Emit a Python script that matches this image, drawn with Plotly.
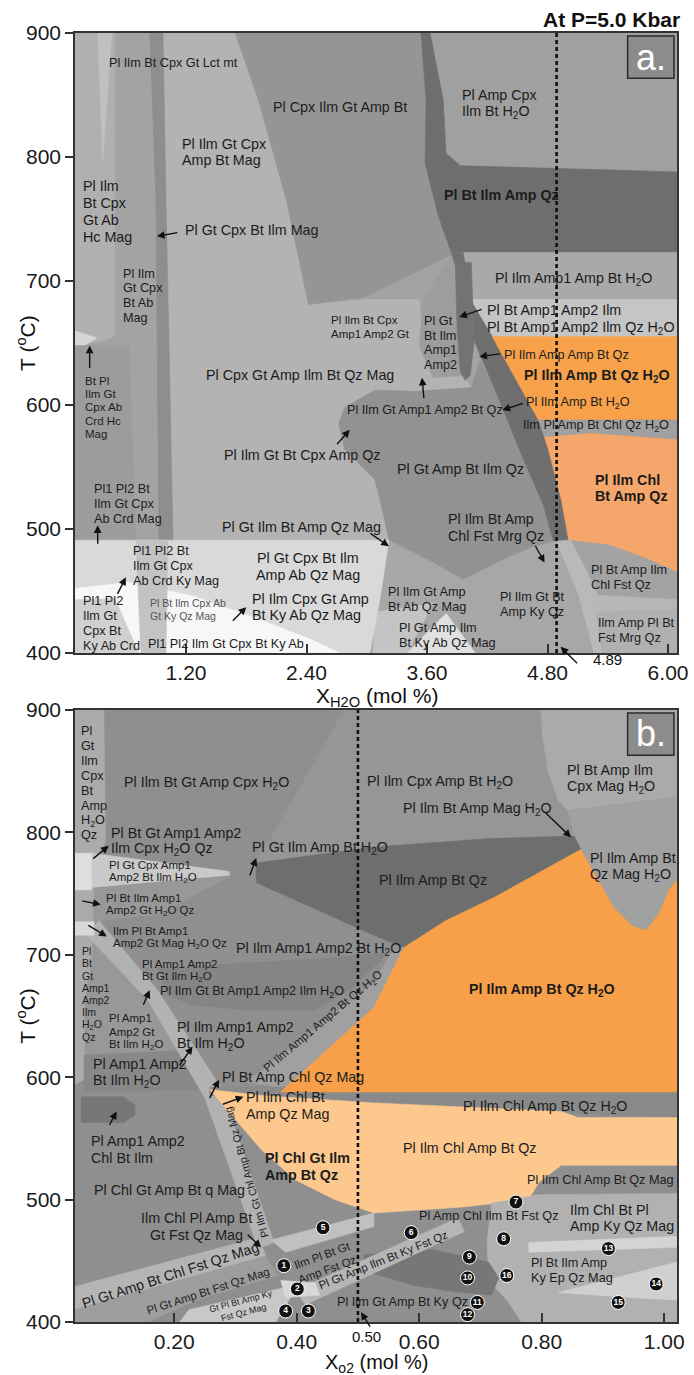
import plotly.graph_objects as go

FONT = "Liberation Sans, Arial, Helvetica, sans-serif"
INK = "#1c1c1c"

# ---------------- axes ----------------
XA_RANGE = [0.094, 6.089]
XA_TICKS = [1.2, 2.4, 3.6, 4.8, 6.0]
XA_TICKTEXT = ["1.20", "2.40", "3.60", "4.80", "6.00"]
XB_RANGE = [0.038, 1.021]
XB_TICKS = [0.2, 0.4, 0.6, 0.8, 1.0]
XB_TICKTEXT = ["0.20", "0.40", "0.60", "0.80", "1.00"]
T_RANGE = [400, 900]
T_TICKS = [400, 500, 600, 700, 800, 900]

XA_SAMPLE = 4.89   # X(H2O) of the modelled bulk composition
XB_SAMPLE = 0.50   # X(O2) of the modelled bulk composition

# ---------------- panel a: phase fields, (X_H2O, T degC) ----------------
A_FRAME = [(0.09, 900), (6.09, 900), (6.09, 400), (0.09, 400)]
A_GT_CPX_MAG = [(0.97, 900), (1.69, 900), (1.92, 846), (2.20, 765), (2.42, 681), (2.98, 685),
                (3.52, 685), (3.55, 652), (3.66, 627), (3.96, 624), (4.04, 614), (3.47, 611),
                (3.08, 612), (2.78, 598), (2.72, 585), (2.78, 564), (3.08, 540), (3.18, 507),
                (3.22, 491), (1.07, 491), (1.00, 765)]
A_HC_MAG = [(0.09, 900), (0.49, 900), (0.49, 656), (0.39, 652), (0.09, 648)]
A_HC_CRD_SPOT = [(0.09, 660), (0.31, 654), (0.09, 643)]
A_CRD_HC = [(0.09, 648), (0.63, 648), (0.70, 491), (0.09, 491)]
A_LCT_STREAK = [(0.32, 900), (0.46, 900), (0.37, 796)]
A_MAG_STRIPE = [(0.84, 900), (0.97, 900), (1.00, 765), (1.07, 491), (0.93, 491), (0.90, 765)]
A_CPX_GT_AMP = [(1.69, 900), (3.54, 900), (3.59, 846), (3.58, 795), (3.71, 753), (3.84, 721),
                (2.98, 687), (2.42, 681), (2.20, 765), (1.92, 846)]
A_GT_AMP12 = [(3.84, 721), (3.91, 685), (3.98, 624), (3.66, 622), (3.52, 648), (3.57, 685)]
A_AMP_CPX_H2O = [(3.63, 900), (6.09, 900), (6.09, 788), (3.93, 793), (3.79, 803), (3.76, 846)]
A_BT_ILM_AMP_QZ = [(3.54, 900), (3.63, 900), (3.76, 846), (3.79, 803), (3.93, 793), (6.09, 788),
                   (6.09, 723), (3.84, 723), (3.71, 753), (3.58, 795), (3.59, 846)]
A_AMP1_H2O = [(3.84, 723), (6.09, 723), (6.09, 685), (4.03, 685), (3.91, 705)]
A_AMP12_ILM = [(4.03, 685), (6.09, 685), (6.09, 655), (4.25, 655)]
A_GT_AMP_ILM_QZ = [(2.78, 598), (3.08, 612), (3.47, 611), (4.04, 614), (4.13, 636), (4.30, 608),
                   (4.54, 560), (4.76, 519), (4.86, 490), (4.64, 485), (4.30, 473), (3.96, 459),
                   (3.61, 475), (3.22, 491), (3.18, 507), (3.08, 540), (2.78, 564), (2.72, 585)]
A_AMP_QZ_BELT = [(3.84, 723), (3.96, 723), (4.03, 685), (4.25, 655), (4.71, 588), (4.81, 564),
                 (4.94, 523), (5.01, 491), (4.86, 490), (4.76, 519), (4.54, 560), (4.30, 608),
                 (4.13, 640), (4.07, 652), (4.01, 685), (3.91, 705)]
A_AMP12_STRIPE = [(3.88, 715), (4.04, 715), (4.07, 652), (4.03, 624), (3.98, 620), (3.93, 627),
                  (3.90, 661)]
A_QZ_H2O = [(4.25, 655), (6.09, 655), (6.09, 588), (4.71, 588)]
A_CHL_H2O = [(4.71, 588), (6.09, 588), (6.09, 572), (5.23, 577), (4.77, 574)]
A_CHL_QZ = [(4.77, 574), (5.23, 577), (6.09, 572), (6.09, 465), (5.82, 475), (5.42, 487),
            (5.01, 491), (4.94, 523), (4.81, 564)]
A_AB_QZ_MAG = [(3.22, 491), (3.61, 475), (3.96, 459), (4.30, 473), (4.64, 485), (4.86, 490),
               (5.01, 491), (5.23, 459), (5.23, 400), (3.03, 400), (3.13, 443)]
A_KY_AB_GREY = [(3.08, 433), (3.66, 440), (3.40, 400), (3.06, 400)]
A_KY_AB = [(3.40, 400), (3.79, 432), (4.08, 400)]
A_CHL_FST = [(5.01, 491), (5.42, 487), (5.82, 475), (6.09, 465), (6.09, 443), (5.62, 440),
             (5.26, 437), (5.13, 463)]
A_FST_DIAG = [(4.89, 490), (5.03, 491), (5.28, 451), (5.42, 400), (5.26, 400), (5.11, 447)]
A_FST_BAND = [(5.23, 447), (6.09, 443), (6.09, 435), (5.28, 433)]
A_FST_MRG = [(5.28, 433), (6.09, 435), (6.09, 400), (5.35, 400)]
A_AB_CRD_KY = [(0.09, 491), (3.22, 491), (3.13, 443), (3.03, 400), (0.09, 400)]
A_KY_CPX = [(0.09, 452), (0.63, 457), (1.27, 446), (1.90, 428), (2.44, 411), (2.73, 400), (0.09, 400)]
A_KY_CRD = [(0.09, 443), (0.49, 444), (0.73, 400), (0.09, 400)]
A_KY_STRIPE = [(0.70, 491), (1.02, 491), (1.00, 400), (0.75, 400)]

# ---------------- panel b: phase fields, (X_O2, T degC) ----------------
B_FRAME = [(0.038, 900), (1.021, 900), (1.021, 400), (0.038, 400)]
B_AMP12_GT_LEFT = [(0.038, 753), (0.290, 764), (0.173, 733), (0.077, 728), (0.057, 716),
                   (0.157, 663), (0.205, 622), (0.053, 618), (0.038, 618)]
B_CPX_QZ_STRIP = [(0.038, 900), (0.085, 900), (0.088, 794), (0.069, 761), (0.065, 696),
                  (0.053, 663), (0.053, 598), (0.038, 594)]
B_CPX_AMP_H2O = [(0.478, 900), (0.799, 900), (0.801, 880), (0.810, 851), (0.827, 826), (0.843, 818),
                 (0.853, 797), (0.718, 795), (0.526, 788), (0.334, 775)]
B_CPX_MAG_H2O = [(0.799, 900), (1.021, 900), (1.021, 829), (0.912, 822), (0.843, 818), (0.827, 826),
                 (0.810, 851), (0.801, 880)]
B_QZ_MAG_H2O = [(0.843, 818), (0.912, 822), (1.021, 829), (1.021, 761), (1.008, 753), (0.992, 734),
                (0.971, 720), (0.949, 723), (0.917, 739), (0.885, 767), (0.864, 786), (0.853, 797)]
B_AMP_BT_QZ = [(0.334, 775), (0.526, 788), (0.718, 795), (0.853, 797), (0.864, 786), (0.816, 773),
               (0.723, 747), (0.644, 728), (0.575, 706), (0.526, 716), (0.334, 759)]
B_CPX_WEDGE = [(0.065, 783), (0.290, 768), (0.290, 765), (0.065, 755)]
B_CPX_WEDGE_EDGE = [(0.038, 783), (0.065, 783), (0.065, 753), (0.038, 753)]
B_GT_AMP12_H2O = [(0.173, 689), (0.446, 697), (0.550, 702), (0.487, 671), (0.430, 655),
                  (0.318, 655), (0.230, 659), (0.189, 667)]
B_AMP12_ILM_H2O = [(0.053, 618), (0.230, 622), (0.258, 590), (0.053, 588)]
B_GT_CHL_BAND = [(0.077, 728), (0.173, 671), (0.277, 591), (0.363, 465), (0.337, 460),
                 (0.250, 583), (0.157, 663), (0.057, 716)]
B_MAG_EDGE = [(0.038, 727), (0.069, 727), (0.069, 716), (0.038, 716)]
B_CHL_BLOB = [(0.048, 584), (0.117, 584), (0.136, 577), (0.136, 569), (0.117, 563), (0.048, 563)]
B_AMP12_QZ_BAND = [(0.318, 596), (0.526, 677), (0.555, 702), (0.575, 706), (0.526, 657), (0.382, 591)]
B_CHL_H2O_BAND = [(0.258, 592), (1.021, 591), (1.021, 567), (0.258, 585)]
B_QZ_H2O = [(0.575, 706), (0.644, 728), (0.723, 747), (0.816, 773), (0.864, 786), (0.885, 767),
            (0.917, 739), (0.949, 723), (0.971, 720), (0.992, 734), (1.008, 753), (1.021, 761),
            (1.021, 588), (0.374, 588), (0.526, 657)]
B_CHL_QZ = [(0.258, 590), (0.342, 585), (0.526, 579), (0.832, 572), (0.859, 567), (1.021, 567),
            (1.021, 528), (0.832, 528), (0.795, 514), (0.779, 500), (0.671, 494), (0.526, 489),
            (0.462, 500), (0.398, 516), (0.342, 541), (0.301, 565)]
B_KY_QZ_MAG = [(0.718, 497), (0.795, 504), (1.021, 505), (1.021, 400), (0.767, 400), (0.743, 418),
               (0.713, 434), (0.711, 467), (0.716, 487)]
B_KY_STREAK = [(0.779, 465), (1.021, 470), (1.021, 461), (0.779, 457)]
B_KY_STREAK_LOW = [(0.827, 424), (1.021, 449), (1.021, 418), (0.944, 420)]
B_FST_DARK = [(0.510, 455), (0.623, 459), (0.713, 449), (0.730, 436), (0.718, 422), (0.655, 425),
              (0.591, 430), (0.510, 442)]
B_KY_FST_BAND = [(0.398, 426), (0.663, 485), (0.674, 474), (0.414, 414)]
B_FST_BAND5 = [(0.358, 467), (0.526, 489), (0.526, 478), (0.382, 457)]
B_CHL_FST_BAND = [(0.038, 429), (0.337, 469), (0.350, 454), (0.038, 410)]
B_FST_LOW = [(0.038, 410), (0.350, 454), (0.369, 438), (0.237, 418), (0.157, 400), (0.038, 400)]
B_KY_FST_LOW = [(0.209, 400), (0.224, 410), (0.379, 428), (0.390, 420), (0.366, 400)]
B_SPOT2 = [(0.374, 434), (0.430, 432), (0.438, 422), (0.382, 420)]

# small-field numbers in panel b
B_FIELD_IDS = ["1", "2", "3", "4", "5", "6", "7", "8", "9", "10", "11", "12", "13", "14", "15", "16"]
B_FIELD_X = [0.379, 0.401, 0.419, 0.382, 0.443, 0.587, 0.758, 0.738, 0.682, 0.679, 0.695, 0.679,
             0.909, 0.987, 0.925, 0.743]
B_FIELD_T = [446, 427, 409, 409, 477, 473, 498, 468, 453, 436, 416, 406, 460, 431, 416, 438]

# ---------------- field labels: (x, T, text, size key, anchor) ----------------
A_LABELS = [
    (1.07, 876, "Pl Ilm Bt Cpx Gt Lct mt", "s", "c"),
    (2.73, 840, "Pl Cpx Ilm Gt Amp Bt", "n", "c"),
    (3.93, 843, "Pl Amp Cpx<br>Ilm Bt H<sub>2</sub>O", "n", "l"),
    (1.14, 804, "Pl Ilm Gt Cpx<br>Amp Bt Mag", "n", "l"),
    (4.34, 769, "<b>Pl Bt Ilm Amp Qz</b>", "n", "c"),
    (0.15, 756, "Pl Ilm<br>Bt Cpx<br>Gt Ab<br>Hc Mag", "n", "l"),
    (1.17, 741, "Pl Gt Cpx Bt Ilm Mag", "n", "l"),
    (0.55, 688, "Pl Ilm<br>Gt Cpx<br>Bt Ab<br>Mag", "s", "l"),
    (5.06, 702, "Pl Ilm Amp1 Amp Bt H<sub>2</sub>O", "n", "c"),
    (4.18, 677, "Pl Bt Amp1 Amp2 Ilm", "n", "l"),
    (4.18, 662, "Pl Bt Amp1 Amp2 Ilm Qz H<sub>2</sub>O", "n", "l"),
    (2.62, 663, "Pl Ilm Bt Cpx<br>Amp1 Amp2 Gt", "xs", "l"),
    (3.55, 650, "Pl Gt<br>Bt Ilm<br>Amp1<br>Amp2", "s", "l"),
    (4.35, 640, "Pl Ilm Amp Amp Bt Qz", "s", "l"),
    (5.29, 623, "<b>Pl Ilm Amp Bt Qz H<sub>2</sub>O</b>", "n", "c"),
    (4.57, 602, "Pl Ilm Amp Bt H<sub>2</sub>O", "s", "l"),
    (5.28, 583, "Ilm Pl Amp Bt Chl Qz H<sub>2</sub>O", "s", "c"),
    (5.25, 533, "<b>Pl Ilm Chl</b><br><b>Bt Amp Qz</b>", "n", "l"),
    (5.21, 461, "Pl Bt Amp Ilm<br>Chl Fst Qz", "s", "l"),
    (5.28, 418, "Ilm Amp Pl Bt<br>Fst Mrg Qz", "s", "l"),
    (3.93, 548, "Pl Gt Amp Bt Ilm Qz", "n", "c"),
    (3.79, 501, "Pl Ilm Bt Amp<br>Chl Fst Mrg Qz", "n", "l"),
    (3.19, 443, "Pl Ilm Gt Amp<br>Bt Ab Qz Mag", "s", "l"),
    (4.31, 439, "Pl Ilm Gt Bt<br>Amp Ky Qz", "s", "l"),
    (3.30, 414, "Pl Gt Amp Ilm<br>Bt Ky Ab Qz Mag", "s", "l"),
    (2.78, 596, "Pl Ilm Gt Amp1 Amp2 Bt Qz", "s", "l"),
    (1.38, 624, "Pl Cpx Gt Amp Ilm Bt Qz Mag", "n", "l"),
    (1.56, 560, "Pl Ilm Gt Bt Cpx Amp Qz", "n", "l"),
    (0.17, 598, "Bt Pl<br>Ilm Gt<br>Cpx Ab<br>Crd Hc<br>Mag", "xs", "l"),
    (0.26, 520, "Pl1 Pl2 Bt<br>Ilm Gt Cpx<br>Ab Crd Mag", "s", "l"),
    (1.54, 502, "Pl Gt Ilm Bt Amp Qz Mag", "n", "l"),
    (0.65, 470, "Pl1 Pl2 Bt<br>Ilm Gt Cpx<br>Ab Crd Ky Mag", "s", "l"),
    (2.41, 470, "Pl Gt Cpx Bt Ilm<br>Amp Ab Qz Mag", "n", "c"),
    (0.15, 424, "Pl1 Pl2<br>Ilm Gt<br>Cpx Bt<br>Ky Ab Crd", "s", "l"),
    (1.84, 437, "Pl Ilm Cpx Gt Amp<br>Bt Ky Ab Qz Mag", "n", "l"),
    (0.80, 407, "Pl1 Pl2 Ilm Gt Cpx Bt Ky Ab", "s", "l"),
]
A_FAINT_LABELS = [
    (0.82, 435, "Pl Bt Ilm Cpx Ab<br>Gt Ky Qz Mag"),
]
# pointers: (tip x, tip T, tail dx px, tail dy px)
A_POINTERS = [
    (0.91, 736, 22, -4), (3.92, 671, 24, -8), (4.12, 639, 22, -3), (4.35, 596, 22, -7),
    (3.55, 622, 2, 22), (2.83, 580, -14, 16), (0.24, 648, 0, 24), (0.32, 503, 0, 20),
    (3.22, 486, -20, -14), (0.60, 461, -9, 18), (1.80, 437, -15, 15), (4.77, 473, -10, -18),
    (4.93, 405, 18, 18),
]

B_LABELS = [
    (0.044, 840, "Pl<br>Gt<br>Ilm<br>Cpx<br>Bt<br>Amp<br>H<sub>2</sub>O<br>Qz", "s", "l"),
    (0.114, 840, "Pl Ilm Bt Gt Amp Cpx H<sub>2</sub>O", "n", "l"),
    (0.634, 841, "Pl Ilm Cpx Amp Bt H<sub>2</sub>O", "n", "c"),
    (0.838, 844, "Pl Bt Amp Ilm<br>Cpx Mag H<sub>2</sub>O", "n", "l"),
    (0.570, 819, "Pl Ilm Bt Amp Mag H<sub>2</sub>O", "n", "l"),
    (0.093, 793, "Pl Bt Gt Amp1 Amp2<br>Ilm Cpx H<sub>2</sub>O Qz", "n", "l"),
    (0.323, 787, "Pl Gt Ilm Amp Bt H<sub>2</sub>O", "n", "l"),
    (0.091, 768, "Pl Gt Cpx Amp1<br>Amp2 Bt Ilm H<sub>2</sub>O", "xs", "l"),
    (0.623, 761, "Pl Ilm Amp Bt Qz", "n", "c"),
    (0.875, 772, "Pl Ilm Amp Bt<br>Qz Mag H<sub>2</sub>O", "n", "l"),
    (0.086, 741, "Pl Bt Ilm Amp1<br>Amp2 Gt H<sub>2</sub>O Qz", "xs", "l"),
    (0.096, 714, "Ilm Pl Bt Amp1<br>Amp2 Gt Mag H<sub>2</sub>O Qz", "xs", "l"),
    (0.297, 705, "Pl Ilm Amp1 Amp2 Bt H<sub>2</sub>O", "n", "l"),
    (0.046, 668, "Pl<br>Bt<br>Gt<br>Amp1<br>Amp2<br>Ilm<br>H<sub>2</sub>O<br>Qz", "xxs", "l"),
    (0.144, 687, "Pl Amp1 Amp2<br>Bt Gt Ilm H<sub>2</sub>O", "xs", "l"),
    (0.173, 670, "Pl Ilm Gt Bt Amp1 Amp2 Ilm H<sub>2</sub>O", "s", "l"),
    (0.090, 637, "Pl Amp1<br>Amp2 Gt<br>Bt Ilm H<sub>2</sub>O", "xs", "l"),
    (0.202, 634, "Pl Ilm Amp1 Amp2<br>Bt Ilm H<sub>2</sub>O", "n", "l"),
    (0.064, 604, "Pl Amp1 Amp2<br>Bt Ilm H<sub>2</sub>O", "n", "l"),
    (0.274, 600, "Pl Bt Amp Chl Qz Mag", "n", "l"),
    (0.314, 577, "Pl Ilm Chl Bt<br>Amp Qz Mag", "n", "l"),
    (0.061, 541, "Pl Amp1 Amp2<br>Chl Bt Ilm", "n", "l"),
    (0.345, 527, "<b>Pl Chl Gt Ilm</b><br><b>Amp Bt Qz</b>", "n", "l"),
    (0.065, 508, "Pl Chl Gt Amp Bt q Mag", "n", "l"),
    (0.237, 478, "Ilm Chl Pl Amp Bt<br>Gt Fst Qz Mag", "n", "c"),
    (0.462, 416, "Pl Ilm Gt Amp Bt Ky Qz", "s", "l"),
    (0.596, 487, "Pl Amp Chl Ilm Bt Fst Qz", "s", "l"),
    (0.668, 576, "Pl Ilm Chl Amp Bt Qz H<sub>2</sub>O", "n", "l"),
    (0.570, 542, "Pl Ilm Chl Amp Bt Qz", "n", "l"),
    (0.772, 516, "Pl Ilm Chl Amp Bt Qz Mag", "s", "l"),
    (0.843, 485, "Ilm Chl Bt Pl<br>Amp Ky Qz Mag", "n", "l"),
    (0.779, 442, "Pl Bt Ilm Amp<br>Ky Ep Qz Mag", "s", "l"),
    (0.801, 671, "<b>Pl Ilm Amp Bt Qz H<sub>2</sub>O</b>", "n", "c"),
]
# labels written along narrow fields: (x, T, text, size key, angle)
B_TILTED = [
    (0.318, 523, "Pl Ilm Gt Chl Amp Bt Qz Mag", "xxs", -106),
    (0.194, 438, "Pl Gt Amp Bt Chl Fst Qz Mag", "n", -18),
    (0.255, 425, "Pl Gt Amp Bt Fst Qz Mag", "xs", -18),
    (0.311, 412, "Gt Pl Bt Amp Ky<br>Fst Qz Mag", "xxxs", -15),
    (0.446, 449, "Ilm Pl Bt Gt<br>Amp Fst Qz", "xs", -20),
    (0.541, 451, "Pl Gt Amp Ilm Bt Ky Fst Qz", "xs", -22),
    (0.443, 645, "Pl Ilm Amp1 Amp2 Bt Qz H<sub>2</sub>O", "xs", -40),
]
B_POINTERS = [
    (0.848, 796, -27, -26), (0.093, 789, -17, 14), (0.334, 779, -7, 19), (0.080, 741, -20, -4),
    (0.090, 715, -20, -12), (0.160, 671, -7, 16), (0.230, 625, -14, 20), (0.273, 598, -10, 20),
    (0.313, 584, -22, 8), (0.106, 572, -8, 15), (0.342, 461, -15, -14), (0.505, 408, 10, 16),
]

# ---------------- drawing order and fills ----------------
A_FIELDS = [
    (A_FRAME, "#a3a3a3"), (A_GT_CPX_MAG, "#b3b3b3"), (A_HC_MAG, "#b0b0b0"),
    (A_HC_CRD_SPOT, "#d6d6d6"), (A_CRD_HC, "#9c9c9c"), (A_LCT_STREAK, "#c0c0c0"),
    (A_MAG_STRIPE, "#8e8e8e"), (A_CPX_GT_AMP, "#959595"), (A_GT_AMP12, "#9d9d9d"),
    (A_AMP_CPX_H2O, "#a0a0a0"), (A_BT_ILM_AMP_QZ, "#6e6e6e"), (A_AMP1_H2O, "#a9a9a9"),
    (A_AMP12_ILM, "#c5c5c5"), (A_GT_AMP_ILM_QZ, "#929292"), (A_AMP_QZ_BELT, "#6f6f6f"),
    (A_AMP12_STRIPE, "#737373"), (A_QZ_H2O, "#f7a24a"), (A_CHL_H2O, "#a0a0a0"),
    (A_CHL_QZ, "#f5a66b"), (A_AB_QZ_MAG, "#a7a7a7"), (A_KY_AB_GREY, "#c4c4c4"),
    (A_KY_AB, "#e0e0e0"), (A_CHL_FST, "#a3a3a3"), (A_FST_DIAG, "#b9b9b9"),
    (A_FST_BAND, "#b7b7b7"), (A_FST_MRG, "#b0b0b0"), (A_AB_CRD_KY, "#d9d9d9"),
    (A_KY_CPX, "#f7f7f7"), (A_KY_CRD, "#d0d0d0"), (A_KY_STRIPE, "#c3c3c3"),
]
B_FIELDS = [
    (B_FRAME, "#8f8f8f"), (B_AMP12_GT_LEFT, "#989898"), (B_CPX_QZ_STRIP, "#ababab"),
    (B_CPX_AMP_H2O, "#969696"), (B_CPX_MAG_H2O, "#aaaaaa"), (B_QZ_MAG_H2O, "#a1a1a1"),
    (B_AMP_BT_QZ, "#6e6e6e"), (B_CPX_WEDGE, "#c9c9c9"), (B_CPX_WEDGE_EDGE, "#dedede"),
    (B_GT_AMP12_H2O, "#858585"), (B_AMP12_ILM_H2O, "#888888"), (B_GT_CHL_BAND, "#b2b2b2"),
    (B_MAG_EDGE, "#d8d8d8"), (B_CHL_BLOB, "#777777"), (B_AMP12_QZ_BAND, "#a0a0a0"),
    (B_CHL_H2O_BAND, "#8a8a8a"), (B_QZ_H2O, "#f7a049"), (B_CHL_QZ, "#fdc88e"),
    (B_KY_QZ_MAG, "#b1b1b1"), (B_KY_STREAK, "#d4d4d4"), (B_KY_STREAK_LOW, "#d0d0d0"),
    (B_FST_DARK, "#777777"), (B_KY_FST_BAND, "#b6b6b6"), (B_FST_BAND5, "#c0c0c0"),
    (B_CHL_FST_BAND, "#b4b4b4"), (B_FST_LOW, "#9d9d9d"), (B_KY_FST_LOW, "#c8c8c8"),
    (B_SPOT2, "#d8d8d8"),
]

SIZES = {"n": 14.3, "s": 12.7, "xs": 11.5, "xxs": 10.5, "xxxs": 9}
ANCHOR = {"l": "left", "c": "center"}
LEAD = 1.17   # line pitch of stacked labels, in font sizes

fig = go.Figure()


def add_field(pts, color, xa, ya):
    xs = [p[0] for p in pts] + [pts[0][0]]
    ys = [p[1] for p in pts] + [pts[0][1]]
    fig.add_trace(go.Scatter(
        x=xs, y=ys, xaxis=xa, yaxis=ya, mode="lines", fill="toself",
        fillcolor=color, line=dict(width=0.6, color=color),
        hoverinfo="skip", showlegend=False))


for pts, col in A_FIELDS:
    add_field(pts, col, "x", "y")
for pts, col in B_FIELDS:
    add_field(pts, col, "x2", "y2")

# sample composition lines
fig.add_trace(go.Scatter(x=[XA_SAMPLE, XA_SAMPLE], y=T_RANGE, xaxis="x", yaxis="y", mode="lines",
                         line=dict(color="#111111", width=2.6, dash="4px,3px"),
                         hoverinfo="skip", showlegend=False))
fig.add_trace(go.Scatter(x=[XB_SAMPLE, XB_SAMPLE], y=T_RANGE, xaxis="x2", yaxis="y2", mode="lines",
                         line=dict(color="#111111", width=2.6, dash="4px,3px"),
                         hoverinfo="skip", showlegend=False))

# numbered small fields
fig.add_trace(go.Scatter(
    x=B_FIELD_X, y=B_FIELD_T, xaxis="x2", yaxis="y2", mode="markers+text",
    text=["<b>%s</b>" % s for s in B_FIELD_IDS], textposition="middle center",
    textfont=dict(family=FONT, size=8.5, color="white"),
    marker=dict(size=14, color="#111111", line=dict(color="white", width=1)),
    hoverinfo="skip", showlegend=False))

ann = []


def label(x, y, text, size, anchor, xref, yref, color=INK):
    """Stacked field label; each line is its own annotation for a tight line pitch."""
    lines = text.split("<br>")
    n = len(lines)
    for i, ln in enumerate(lines):
        ann.append(dict(x=x, y=y, xref=xref, yref=yref, text=ln, showarrow=False,
                        xanchor=ANCHOR[anchor], yanchor="middle", align=ANCHOR[anchor],
                        yshift=((n - 1) / 2 - i) * LEAD * size,
                        font=dict(family=FONT, size=size, color=color)))


def tilted(x, y, text, size, angle, xref, yref):
    ann.append(dict(x=x, y=y, xref=xref, yref=yref, text=text, showarrow=False,
                    xanchor="center", yanchor="middle", align="center", textangle=angle,
                    font=dict(family=FONT, size=size, color=INK)))


def pointer(x, y, dx, dy, xref, yref):
    ann.append(dict(x=x, y=y, xref=xref, yref=yref, ax=dx, ay=dy, text="", showarrow=True,
                    arrowhead=2, arrowsize=1.1, arrowwidth=1.4, arrowcolor="#111111", standoff=0))


for x, y, t, s, a in A_LABELS:
    label(x, y, t, SIZES[s], a, "x", "y")
for x, y, t in A_FAINT_LABELS:
    label(x, y, t, 10.5, "l", "x", "y", color="#555555")
for x, y, dx, dy in A_POINTERS:
    pointer(x, y, dx, dy, "x", "y")
for x, y, t, s, a in B_LABELS:
    label(x, y, t, SIZES[s], a, "x2", "y2")
for x, y, t, s, ang in B_TILTED:
    tilted(x, y, t, SIZES[s], ang, "x2", "y2")
for x, y, dx, dy in B_POINTERS:
    pointer(x, y, dx, dy, "x2", "y2")

# sample composition values written under the axes
ann.append(dict(x=5.40, y=0.5136, xref="x", yref="paper", text="4.89", showarrow=False,
                xanchor="center", yanchor="middle", font=dict(family=FONT, size=15, color="#111111")))
ann.append(dict(x=0.514, y=-0.0116, xref="x2", yref="paper", text="0.50", showarrow=False,
                xanchor="center", yanchor="middle", font=dict(family=FONT, size=15, color="#111111")))

# panel letters
for xd, yd, letter in (("x domain", "y domain", "a."), ("x2 domain", "y2 domain", "b.")):
    ann.append(dict(x=0.9565, y=0.961, xref=xd, yref=yd, text=letter, showarrow=False,
                    xanchor="center", yanchor="middle",
                    font=dict(family=FONT, size=36, color="white")))

# titles
ann.append(dict(x=1.009, y=1.0101, xref="paper", yref="paper", text="<b>At P=5.0 Kbar</b>",
                showarrow=False, xanchor="right", yanchor="middle",
                font=dict(family=FONT, size=21, color="#111111")))
ann.append(dict(x=0.501, y=0.4849, xref="paper", yref="paper",
                text="X<sub>H2O</sub> (mol %)", showarrow=False, xanchor="center",
                yanchor="middle", font=dict(family=FONT, size=21, color="#111111")))
ann.append(dict(x=0.501, y=-0.0322, xref="paper", yref="paper",
                text="X<sub>o2</sub> (mol %)", showarrow=False, xanchor="center",
                yanchor="middle", font=dict(family=FONT, size=20, color="#111111")))
for yc in (0.7595, 0.2374):
    ann.append(dict(x=-0.0816, y=yc, xref="paper", yref="paper", text="T (<sup>o</sup>C)",
                    showarrow=False, xanchor="center", yanchor="middle", textangle=-90,
                    font=dict(family=FONT, size=21, color="#111111")))

shapes = [
    dict(type="rect", xref="x domain", yref="y domain", x0=0.918, x1=0.995, y0=0.927, y1=0.995,
         fillcolor="#8c8c8c", line=dict(color="#2a2a2a", width=1.5)),
    dict(type="rect", xref="x2 domain", yref="y2 domain", x0=0.918, x1=0.995, y0=0.926, y1=0.995,
         fillcolor="#8c8c8c", line=dict(color="#2a2a2a", width=1.5)),
]

axis_common = dict(showline=True, linecolor="#333333", linewidth=1.5, mirror=True,
                   showgrid=False, zeroline=False, tickwidth=1.5, tickcolor="#333333",
                   tickfont=dict(family=FONT, size=21, color="#1a1a1a"))

fig.update_layout(
    width=694, height=1375, margin=dict(l=75, r=6, t=33, b=53),
    paper_bgcolor="white", plot_bgcolor="white", showlegend=False,
    font=dict(family=FONT, color=INK),
    xaxis=dict(domain=[0, 1], anchor="y", range=XA_RANGE, tickvals=XA_TICKS,
               ticktext=XA_TICKTEXT, ticks="inside", ticklen=9, **axis_common),
    yaxis=dict(domain=[0.519, 1], anchor="x", range=T_RANGE, tickvals=T_TICKS,
               ticks="outside", ticklen=8, **axis_common),
    xaxis2=dict(domain=[0, 1], anchor="y2", range=XB_RANGE, tickvals=XB_TICKS,
                ticktext=XB_TICKTEXT, ticks="inside", ticklen=9, **axis_common),
    yaxis2=dict(domain=[0, 0.4748], anchor="x2", range=T_RANGE, tickvals=T_TICKS,
                ticks="outside", ticklen=8, **axis_common),
    annotations=ann, shapes=shapes,
)

fig.write_html("out.html")
